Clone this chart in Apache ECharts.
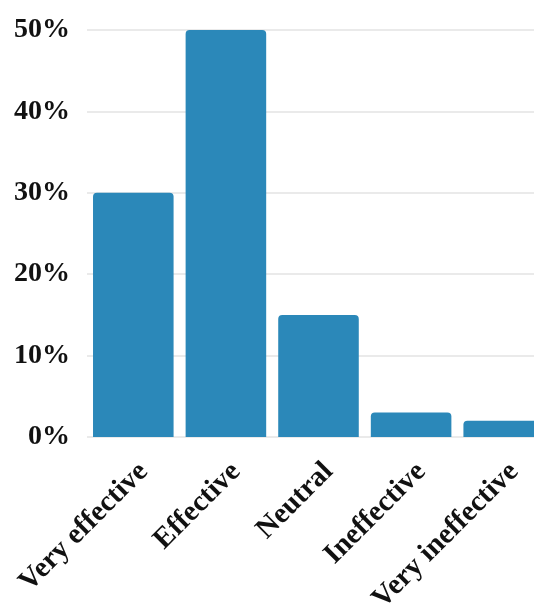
<!DOCTYPE html>
<html>
<head>
<meta charset="utf-8">
<style>
  html, body { margin: 0; padding: 0; background: #fff; overflow: hidden; }
  #chart { width: 534px; height: 606px; }
</style>
<script src="https://cdn.jsdelivr.net/npm/echarts@6/dist/echarts.min.js"></script>
</head>
<body>
<div id="chart"></div>
<script>
// Survey responses on perceived effectiveness (share of respondents, %)
const categories = ['Very effective', 'Effective', 'Neutral', 'Ineffective', 'Very ineffective'];
const shares = [30, 50, 15, 3, 2];
const yTicks = { min: 0, max: 50, step: 10 };

const chart = echarts.init(document.getElementById('chart'), null, { renderer: 'canvas' });

const labelFont = {
  fontFamily: '"Liberation Serif", "Times New Roman", serif',
  fontWeight: 'bold',
  color: '#111'
};

chart.setOption({
  animation: false,
  backgroundColor: '#ffffff',
  // plot area runs past the right edge, so the last bar is clipped
  grid: {
    left: 87, width: 463, top: 30, bottom: 169,
    containLabel: false,
    outerBoundsMode: 'none'
  },
  xAxis: {
    type: 'category',
    data: categories,
    axisLine: { show: false },
    axisTick: { show: false },
    axisLabel: Object.assign({}, labelFont, {
      fontSize: 29,
      rotate: 45,
      margin: 20,
      verticalAlign: 'top',
      interval: 0
    })
  },
  yAxis: {
    type: 'value',
    min: yTicks.min,
    max: yTicks.max,
    interval: yTicks.step,
    axisLine: { show: false },
    axisTick: { show: false },
    splitLine: { lineStyle: { color: '#e3e3e3', width: 1.5 } },
    axisLabel: Object.assign({}, labelFont, {
      fontSize: 28,
      margin: 17,
      formatter: '{value}%'
    })
  },
  series: [{
    type: 'bar',
    data: shares,
    barCategoryGap: '13%',
    itemStyle: { color: '#2b88b9', borderRadius: [4, 4, 0, 0] }
  }]
});
</script>
</body>
</html>
